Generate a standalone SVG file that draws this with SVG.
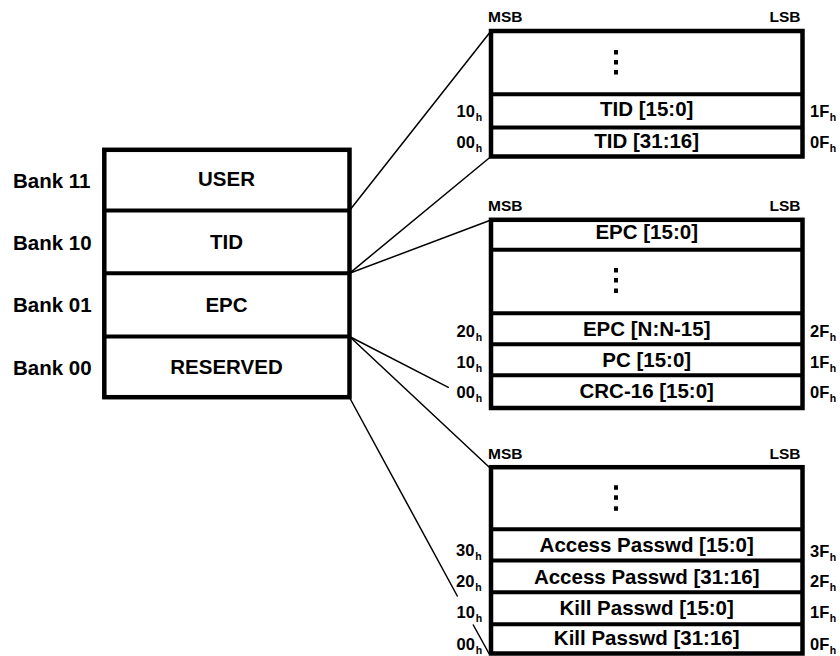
<svg xmlns="http://www.w3.org/2000/svg" width="840" height="656" viewBox="0 0 840 656">
<style>
.tx{font-family:"Liberation Sans",Arial,Helvetica,sans-serif;font-weight:bold;fill:#000}
.big{font-size:20.5px}
.mid{text-anchor:middle}
.end{text-anchor:end}
.hdr{font-size:15.5px}
.addr{font-size:16.5px}
.sub{font-size:10.5px}
.box{fill:#fff;stroke:#000;stroke-width:4.5}
.dv{stroke:#000;stroke-width:4;fill:none}
.cn{stroke:#000;stroke-width:1.5;fill:none;stroke-linecap:round}
.dot{fill:#000}
</style>
<rect width="840" height="656" fill="#fff"/>

<g id="connectors">
  <line class="cn" x1="349.5" y1="210.5" x2="491" y2="31"/>
  <line class="cn" x1="349.5" y1="273.3" x2="491" y2="156.5"/>
  <line class="cn" x1="349.5" y1="273.3" x2="491" y2="220"/>
  <line class="cn" x1="349.5" y1="336.5" x2="448.3" y2="387.3"/>
  <line class="cn" x1="349.5" y1="336.5" x2="489" y2="467"/>
  <line class="cn" x1="349.5" y1="397.5" x2="457.3" y2="596"/>
  <line class="cn" x1="473.3" y1="625" x2="489" y2="653.5"/>
</g>

<g id="memory-banks">
  <rect class="box" x="104.3" y="149.8" width="245.2" height="247.4"/>
  <g id="bank-user">
    <text class="tx big" x="13" y="187.5">Bank 11</text>
    <text class="tx big mid" x="226.5" y="185.7">USER</text>
  </g>
  <g id="bank-tid">
    <line class="dv" x1="104.3" y1="210.5" x2="349.5" y2="210.5"/>
    <text class="tx big" x="13" y="249.5">Bank 10</text>
    <text class="tx big mid" x="226.5" y="249">TID</text>
  </g>
  <g id="bank-epc">
    <line class="dv" x1="104.3" y1="273.3" x2="349.5" y2="273.3"/>
    <text class="tx big" x="13" y="312">Bank 01</text>
    <text class="tx big mid" x="226.5" y="312">EPC</text>
  </g>
  <g id="bank-reserved">
    <line class="dv" x1="104.3" y1="336.5" x2="349.5" y2="336.5"/>
    <text class="tx big" x="13" y="375">Bank 00</text>
    <text class="tx big mid" x="226.5" y="374.3">RESERVED</text>
  </g>
</g>

<g id="tid-memory">
  <text class="tx hdr" x="488" y="22">MSB</text>
  <text class="tx hdr end" x="800.5" y="22">LSB</text>
  <rect class="box" x="491" y="31" width="311.5" height="125.5"/>
  <line class="dv" x1="491" y1="94.3" x2="802.5" y2="94.3"/>
  <line class="dv" x1="491" y1="127.5" x2="802.5" y2="127.5"/>
  <rect class="dot" x="614" y="50" width="4" height="4.5"/>
  <rect class="dot" x="614" y="60" width="4" height="4.5"/>
  <rect class="dot" x="614" y="70" width="4" height="4.5"/>
  <text class="tx big mid" x="646.7" y="116">TID [15:0]</text>
  <text class="tx big mid" x="646.7" y="147.7">TID [31:16]</text>
  <text class="tx addr" x="456.5" y="116.7">10<tspan class="sub" dx="1" dy="4">h</tspan></text>
  <text class="tx addr" x="456.5" y="148.3">00<tspan class="sub" dx="1" dy="4">h</tspan></text>
  <text class="tx addr" x="810" y="116.7">1F<tspan class="sub" dx="0.5" dy="4">h</tspan></text>
  <text class="tx addr" x="810" y="148.3">0F<tspan class="sub" dx="0.5" dy="4">h</tspan></text>
</g>

<g id="epc-memory">
  <text class="tx hdr" x="488" y="210.7">MSB</text>
  <text class="tx hdr end" x="800.5" y="210.7">LSB</text>
  <rect class="box" x="491" y="219.8" width="311.5" height="188.2"/>
  <line class="dv" x1="491" y1="249.7" x2="802.5" y2="249.7"/>
  <line class="dv" x1="491" y1="313.2" x2="802.5" y2="313.2"/>
  <line class="dv" x1="491" y1="344.2" x2="802.5" y2="344.2"/>
  <line class="dv" x1="491" y1="375.2" x2="802.5" y2="375.2"/>
  <rect class="dot" x="614" y="268" width="4" height="4.5"/>
  <rect class="dot" x="614" y="278" width="4" height="4.5"/>
  <rect class="dot" x="614" y="288.5" width="4" height="4.5"/>
  <text class="tx big mid" x="646.7" y="239.4">EPC [15:0]</text>
  <text class="tx big mid" x="646.7" y="335.8">EPC [N:N-15]</text>
  <text class="tx big mid" x="646.7" y="366.7">PC [15:0]</text>
  <text class="tx big mid" x="646.7" y="398.3">CRC-16 [15:0]</text>
  <text class="tx addr" x="456.5" y="336.7">20<tspan class="sub" dx="1" dy="4">h</tspan></text>
  <text class="tx addr" x="456.5" y="367.7">10<tspan class="sub" dx="1" dy="4">h</tspan></text>
  <text class="tx addr" x="456.5" y="398.3">00<tspan class="sub" dx="1" dy="4">h</tspan></text>
  <text class="tx addr" x="810" y="336.7">2F<tspan class="sub" dx="0.5" dy="4">h</tspan></text>
  <text class="tx addr" x="810" y="367.7">1F<tspan class="sub" dx="0.5" dy="4">h</tspan></text>
  <text class="tx addr" x="810" y="398.3">0F<tspan class="sub" dx="0.5" dy="4">h</tspan></text>
</g>

<g id="reserved-memory">
  <text class="tx hdr" x="488" y="458.5">MSB</text>
  <text class="tx hdr end" x="800.5" y="458.5">LSB</text>
  <rect class="box" x="491" y="467.2" width="311.5" height="186.3"/>
  <line class="dv" x1="491" y1="529.2" x2="802.5" y2="529.2"/>
  <line class="dv" x1="491" y1="560.5" x2="802.5" y2="560.5"/>
  <line class="dv" x1="491" y1="592.2" x2="802.5" y2="592.2"/>
  <line class="dv" x1="491" y1="624.2" x2="802.5" y2="624.2"/>
  <rect class="dot" x="614" y="485.3" width="4" height="4.5"/>
  <rect class="dot" x="614" y="495.3" width="4" height="4.5"/>
  <rect class="dot" x="614" y="506.3" width="4" height="4.5"/>
  <text class="tx big mid" x="646.7" y="552.3">Access Passwd [15:0]</text>
  <text class="tx big mid" x="646.7" y="584">Access Passwd [31:16]</text>
  <text class="tx big mid" x="646.7" y="615">Kill Passwd [15:0]</text>
  <text class="tx big mid" x="646.7" y="645">Kill Passwd [31:16]</text>
  <text class="tx addr" x="456" y="555.7">30<tspan class="sub" dx="1" dy="4">h</tspan></text>
  <text class="tx addr" x="456" y="586.7">20<tspan class="sub" dx="1" dy="4">h</tspan></text>
  <text class="tx addr" x="456.5" y="618.3">10<tspan class="sub" dx="1" dy="4">h</tspan></text>
  <text class="tx addr" x="456.5" y="650">00<tspan class="sub" dx="1" dy="4">h</tspan></text>
  <text class="tx addr" x="810" y="556.7">3F<tspan class="sub" dx="0.5" dy="4">h</tspan></text>
  <text class="tx addr" x="810" y="587.3">2F<tspan class="sub" dx="0.5" dy="4">h</tspan></text>
  <text class="tx addr" x="810" y="618.3">1F<tspan class="sub" dx="0.5" dy="4">h</tspan></text>
  <text class="tx addr" x="810" y="650">0F<tspan class="sub" dx="0.5" dy="4">h</tspan></text>
</g>
</svg>
